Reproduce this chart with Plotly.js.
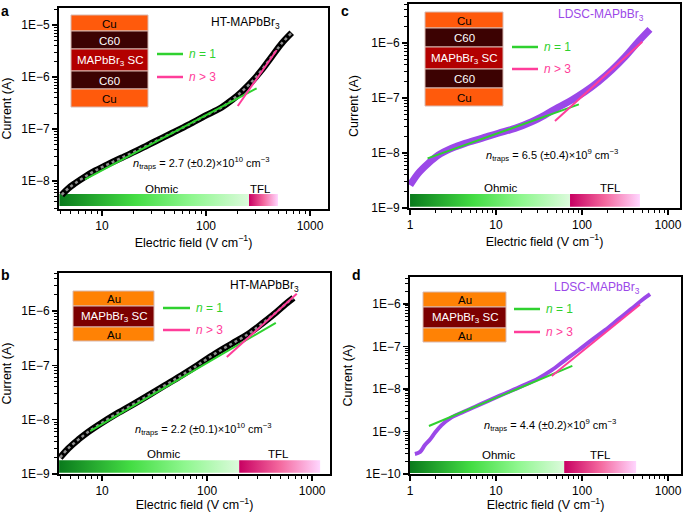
<!DOCTYPE html>
<html><head><meta charset="utf-8">
<script src="https://cdn.plot.ly/plotly-3.0.1.min.js"></script>
<style>html,body{margin:0;padding:0;background:#fff;}#chart{width:685px;height:512px;}</style>
</head><body><div id="chart"></div>
<script>
// ---------- data ----------
// Panel a: HT-MAPbBr3 with Cu/C60 contacts
const aField   = [4.1, 4.74, 5.5, 6.87, 8.6, 11.5, 15.5, 22.4, 32.4, 46.8, 67.6, 97.7, 141, 177, 220, 275, 343, 428, 535, 667];
const aCurrent = [5.4e-9, 7.2e-9, 9.0e-9, 1.21e-8, 1.58e-8, 2.12e-8, 2.8e-8, 3.97e-8, 5.75e-8, 8.3e-8, 1.2e-7, 1.78e-7, 2.6e-7, 3.6e-7, 5.2e-7, 8.1e-7, 1.36e-6, 2.46e-6, 4.45e-6, 7.1e-6];
const aFit1X = [6.87, 307],  aFit1Y = [1.08e-8, 6.07e-7];
const aFit3X = [202, 479],   aFit3Y = [2.77e-7, 3.31e-6];
const aOhmic = [3.9, 259], aTFL = [259, 492], aBarY = [3.31e-9, 5.62e-9];

// Panel c: LDSC-MAPbBr3 with Cu/C60 contacts
const cField   = [1.0, 1.25, 1.63, 2.14, 3.05, 4.36, 6.8, 10.6, 16.6, 26, 37, 53, 76, 108, 155, 221, 316, 452, 617];
const cCurrent = [2.6e-9, 4.3e-9, 6.5e-9, 9.2e-9, 1.22e-8, 1.5e-8, 1.85e-8, 2.29e-8, 2.8e-8, 3.7e-8, 4.9e-8, 6.8e-8, 9.2e-8, 1.3e-7, 1.98e-7, 3.2e-7, 5.6e-7, 1.06e-6, 1.77e-6];
const cFit1X = [1.6, 92],   cFit1Y = [8.0e-9, 7.67e-8];
const cFit3X = [48.5, 503], cFit3Y = [3.82e-8, 1.06e-6];
const cOhmic = [1.0, 72.6], cTFL = [72.6, 472], cBarY = [1.05e-9, 1.8e-9];

// Panel b: HT-MAPbBr3 with Au contacts
const bField   = [3.98, 4.78, 5.95, 7.4, 9.9, 13.3, 19.2, 27.6, 39.8, 57.4, 82.6, 119, 172, 247, 331, 444, 553, 664];
const bCurrent = [2.0e-9, 2.97e-9, 4.3e-9, 5.97e-9, 8.7e-9, 1.24e-8, 1.85e-8, 2.8e-8, 4.3e-8, 6.6e-8, 1.03e-7, 1.64e-7, 2.5e-7, 3.8e-7, 5.8e-7, 9.1e-7, 1.32e-6, 1.75e-6];
const bFit1X = [7.7, 451],  bFit1Y = [6.15e-9, 6.07e-7];
const bFit3X = [154, 714],  bFit3Y = [1.42e-7, 2.07e-6];
const bOhmic = [3.9, 202], bTFL = [202, 1191], bBarY = [1.05e-9, 1.8e-9];

// Panel d: LDSC-MAPbBr3 with Au contacts
const dField   = [1.14, 1.31, 1.49, 1.71, 1.95, 2.33, 2.92, 3.98, 5.7, 8.1, 12.7, 19.9, 31, 44.4, 63, 90.6, 129, 185, 264, 378, 494, 617];
const dCurrent = [2.95e-10, 3.3e-10, 4.8e-10, 6.5e-10, 9.3e-10, 1.41e-9, 2.03e-9, 2.76e-9, 3.8e-9, 5.25e-9, 7.8e-9, 1.16e-8, 1.76e-8, 2.75e-8, 4.7e-8, 8.1e-8, 1.4e-7, 2.4e-7, 4.3e-7, 7.7e-7, 1.21e-6, 1.68e-6];
const dFit1X = [1.66, 77],  dFit1Y = [1.34e-9, 3.48e-8];
const dFit3X = [44.4, 472], dFit3Y = [2.0e-8, 9.6e-7];
const dOhmic = [1.0, 62], dTFL = [62, 425], dBarY = [1.05e-10, 2.02e-10];

// tick labels
const xTicksAB = [10, 100, 1000], xTextAB = ['10', '100', '1000'];
const xTicksCD = [1, 10, 100, 1000], xTextCD = ['1', '10', '100', '1000'];
const yTicksA = [1e-8, 1e-7, 1e-6, 1e-5], yTextA = ['1E−8', '1E−7', '1E−6', '1E−5'];
const yTicksBC = [1e-9, 1e-8, 1e-7, 1e-6], yTextBC = ['1E−9', '1E−8', '1E−7', '1E−6'];
const yTicksD = [1e-10, 1e-9, 1e-8, 1e-7, 1e-6], yTextD = ['1E−10', '1E−9', '1E−8', '1E−7', '1E−6'];

// ---------- styling ----------
const W = 685, H = 512;
const FONT = 'Liberation Sans, Arial, sans-serif';
const GREEN = '#2fd12f', PINK = '#ff3d9a', PURPLE = '#9b48e8';
const ohmicScale = [[0, '#0a7a1c'], [0.4, '#44dd44'], [0.7, '#8ff78f'], [1, '#dcfadc']];
const tflScale = [[0, '#c80062'], [0.5, '#f4689e'], [1, '#ffd6ff']];

function minorVals(d0, d1) {
  const v = [];
  for (let d = d0; d <= d1; d++) for (let k = 2; k <= 9; k++) v.push(k * Math.pow(10, d));
  return v;
}
function xAxis(dom, range, anchor, tv, tt, md) {
  return {domain: dom, type: 'log', range, anchor, showgrid: false, zeroline: false,
    showline: true, linecolor: '#000', linewidth: 2, mirror: true,
    ticks: 'outside', ticklen: 5, tickwidth: 1.5, tickcolor: '#000',
    tickmode: 'array', tickvals: tv, ticktext: tt,
    minor: {tickmode: 'array', tickvals: md, ticks: 'outside', ticklen: 3, tickwidth: 1, tickcolor: '#000', showgrid: false},
    tickfont: {size: 12, color: '#000', family: FONT},
    title: {text: 'Electric field (V cm<sup>−1</sup>)', font: {size: 12.5, color: '#000', family: FONT}, standoff: 3}};
}
function yAxis(dom, range, anchor, tv, tt, md) {
  return {domain: dom, type: 'log', range, anchor, showgrid: false, zeroline: false,
    showline: true, linecolor: '#000', linewidth: 2, mirror: true,
    ticks: 'outside', ticklen: 5, tickwidth: 1.5, tickcolor: '#000',
    tickmode: 'array', tickvals: tv, ticktext: tt,
    minor: {tickmode: 'array', tickvals: md, ticks: 'outside', ticklen: 3, tickwidth: 1, tickcolor: '#000', showgrid: false},
    tickfont: {size: 12, color: '#000', family: FONT},
    title: {text: 'Current (A)', font: {size: 12.5, color: '#000', family: FONT}, standoff: 10}};
}

function barTrace(xr, yr, scale, xa, ya) {
  return {type: 'scatter', mode: 'lines', xaxis: xa, yaxis: ya,
    x: [xr[0], xr[1], xr[1], xr[0], xr[0]], y: [yr[0], yr[0], yr[1], yr[1], yr[0]],
    fill: 'toself', fillgradient: {type: 'horizontal', colorscale: scale},
    line: {width: 0}, hoverinfo: 'skip', showlegend: false};
}
function fitTrace(x, y, color, xa, ya) {
  return {type: 'scatter', mode: 'lines', x, y, xaxis: xa, yaxis: ya,
    line: {color, width: 2}, showlegend: false, hoverinfo: 'skip'};
}
function blackData(x, y, xa, ya) {
  return [
    {type: 'scatter', mode: 'lines', x, y, xaxis: xa, yaxis: ya, line: {color: '#000', width: 6.5, shape: 'spline'}, showlegend: false},
    {type: 'scatter', mode: 'lines', x, y, xaxis: xa, yaxis: ya, line: {color: '#8e8e8e', width: 2.5, dash: 'dot', shape: 'spline'}, showlegend: false}
  ];
}
function purpleData(x, y, xa, ya, w) {
  return [{type: 'scatter', mode: 'lines', x, y, xaxis: xa, yaxis: ya, line: {color: PURPLE, width: w, shape: 'spline'}, showlegend: false}];
}

const traces = [].concat(
  barTrace(aOhmic, aBarY, ohmicScale, 'x', 'y'), barTrace(aTFL, aBarY, tflScale, 'x', 'y'),
  blackData(aField, aCurrent, 'x', 'y'),
  fitTrace(aFit1X, aFit1Y, GREEN, 'x', 'y'), fitTrace(aFit3X, aFit3Y, PINK, 'x', 'y'),

  barTrace(cOhmic, cBarY, ohmicScale, 'x2', 'y2'), barTrace(cTFL, cBarY, tflScale, 'x2', 'y2'),
  purpleData(cField, cCurrent, 'x2', 'y2', 7),
  fitTrace(cFit1X, cFit1Y, GREEN, 'x2', 'y2'), fitTrace(cFit3X, cFit3Y, PINK, 'x2', 'y2'),

  barTrace(bOhmic, bBarY, ohmicScale, 'x3', 'y3'), barTrace(bTFL, bBarY, tflScale, 'x3', 'y3'),
  blackData(bField, bCurrent, 'x3', 'y3'),
  fitTrace(bFit1X, bFit1Y, GREEN, 'x3', 'y3'), fitTrace(bFit3X, bFit3Y, PINK, 'x3', 'y3'),

  barTrace(dOhmic, dBarY, ohmicScale, 'x4', 'y4'), barTrace(dTFL, dBarY, tflScale, 'x4', 'y4'),
  purpleData(dField, dCurrent, 'x4', 'y4', 4),
  fitTrace(dFit1X, dFit1Y, GREEN, 'x4', 'y4'), fitTrace(dFit3X, dFit3Y, PINK, 'x4', 'y4')
);

// ---------- decorations in pixel space ----------
const px = v => v / W, py = v => 1 - v / H;
const shapes = [], annotations = [];
function ann(x, y, text, size, color, opts) {
  annotations.push(Object.assign({xref: 'paper', yref: 'paper', x: px(x), y: py(y), text, showarrow: false,
    xanchor: 'center', yanchor: 'middle', font: {size, color, family: FONT}}, opts || {}));
}
function layer(x0, x1, y0, y1, fill, label, tcolor) {
  shapes.push({type: 'rect', xref: 'paper', yref: 'paper', x0: px(x0), x1: px(x1), y0: py(y1), y1: py(y0),
    fillcolor: fill, line: {color: '#d8b8b0', width: 1}, layer: 'above'});
  ann((x0 + x1) / 2, (y0 + y1) / 2 + 0.5, label, 11.5, tcolor);
}
function key(x0, x1, y, color, label) {
  shapes.push({type: 'line', xref: 'paper', yref: 'paper', x0: px(x0), x1: px(x1), y0: py(y), y1: py(y), line: {color, width: 2.5}});
  ann(x1 + 4, y, label, 12, color, {xanchor: 'left'});
}
const CU = '#ff5a0c', C60 = '#3c0202', SC1 = '#b30000', AU = '#ff8205', SC2 = '#7c0000';
const SC = 'MAPbBr<sub>3</sub> SC';
// a
layer(71, 148, 15, 31, CU, 'Cu', '#000'); layer(71, 148, 31, 49, C60, 'C60', '#fff');
layer(71, 148, 49, 71, SC1, SC, '#fff'); layer(71, 148, 71, 89, C60, 'C60', '#fff');
layer(71, 148, 89, 107, CU, 'Cu', '#000');
// c
layer(425, 503, 12, 28, CU, 'Cu', '#000'); layer(425, 503, 28, 47, C60, 'C60', '#fff');
layer(425, 503, 47, 69, SC1, SC, '#fff'); layer(425, 503, 69, 88, C60, 'C60', '#fff');
layer(425, 503, 88, 106, CU, 'Cu', '#000');
// b
layer(73, 154, 291, 306, AU, 'Au', '#000'); layer(73, 154, 306, 327, SC2, SC, '#fff'); layer(73, 154, 327, 341, AU, 'Au', '#000');
// d
layer(423, 506, 292, 307, AU, 'Au', '#000'); layer(423, 506, 307, 328, SC2, SC, '#fff'); layer(423, 506, 328, 342, AU, 'Au', '#000');

const N1 = '<i>n</i> = 1', N3 = '<i>n</i> > 3';
key(157, 183, 54, GREEN, N1); key(157, 183, 77, PINK, N3);
key(512, 538, 47, GREEN, N1); key(512, 538, 69, PINK, N3);
key(163, 190, 308, GREEN, N1); key(163, 190, 330, PINK, N3);
key(514, 540, 309, GREEN, N1); key(514, 540, 332, PINK, N3);

ann(245, 23, 'HT-MAPbBr<sub>3</sub>', 12, '#000');
ann(601, 15, 'LDSC-MAPbBr<sub>3</sub>', 12, PURPLE);
ann(264, 286, 'HT-MAPbBr<sub>3</sub>', 12, '#000');
ann(597, 288, 'LDSC-MAPbBr<sub>3</sub>', 12, PURPLE);

ann(201, 163, '<i>n</i><sub>traps</sub> = 2.7 (±0.2)×10<sup>10</sup> cm<sup>−3</sup>', 11, '#000');
ann(552, 155, '<i>n</i><sub>traps</sub> = 6.5 (±0.4)×10<sup>9</sup> cm<sup>−3</sup>', 11, '#000');
ann(203, 429, '<i>n</i><sub>traps</sub> = 2.2 (±0.1)×10<sup>10</sup> cm<sup>−3</sup>', 11, '#000');
ann(550, 425, '<i>n</i><sub>traps</sub> = 4.4 (±0.2)×10<sup>9</sup> cm<sup>−3</sup>', 11, '#000');

ann(161, 189, 'Ohmic', 11.5, '#000'); ann(260, 189, 'TFL', 11.5, '#000');
ann(500, 188, 'Ohmic', 11.5, '#000'); ann(610, 188, 'TFL', 11.5, '#000');
ann(163, 454, 'Ohmic', 11.5, '#000'); ann(278, 454, 'TFL', 11.5, '#000');
ann(499, 455, 'Ohmic', 11.5, '#000'); ann(600, 455, 'TFL', 11.5, '#000');

ann(5, 1, '<b>a</b>', 14, '#000', {yanchor: 'top'}); ann(345, 1, '<b>c</b>', 14, '#000', {yanchor: 'top'});
ann(5, 265, '<b>b</b>', 14, '#000', {yanchor: 'top'}); ann(356, 265, '<b>d</b>', 14, '#000', {yanchor: 'top'});

const layout = {
  width: W, height: H, margin: {l: 0, r: 0, t: 0, b: 0}, paper_bgcolor: '#fff', plot_bgcolor: '#fff',
  font: {family: FONT, color: '#000'}, showlegend: false,
  xaxis:  xAxis([59 / W, 328 / W], [0.587, 3.173], 'y', xTicksAB, xTextAB, minorVals(0, 3)),
  yaxis:  yAxis([1 - 209 / H, 1 - 8 / H], [-8.538, -4.673], 'x', yTicksA, yTextA, minorVals(-9, -5)),
  xaxis2: xAxis([409 / W, 680 / W], [-0.012, 3.14], 'y2', xTicksCD, xTextCD, minorVals(0, 3)),
  yaxis2: yAxis([1 - 208 / H, 1 - 4 / H], [-9, -5.29], 'x2', yTicksBC, yTextBC, minorVals(-9, -6)),
  xaxis3: xAxis([59 / W, 330 / W], [0.59, 3.17], 'y3', xTicksAB, xTextAB, minorVals(0, 3)),
  yaxis3: yAxis([1 - 474 / H, 1 - 273 / H], [-9, -5.30], 'x3', yTicksBC, yTextBC, minorVals(-9, -6)),
  xaxis4: xAxis([410 / W, 681 / W], [0, 3.15], 'y4', xTicksCD, xTextCD, minorVals(0, 3)),
  yaxis4: yAxis([1 - 474 / H, 1 - 277 / H], [-10, -5.37], 'x4', yTicksD, yTextD, minorVals(-10, -6)),
  shapes, annotations
};
Plotly.newPlot('chart', traces, layout, {staticPlot: true, displayModeBar: false});
</script></body></html>
